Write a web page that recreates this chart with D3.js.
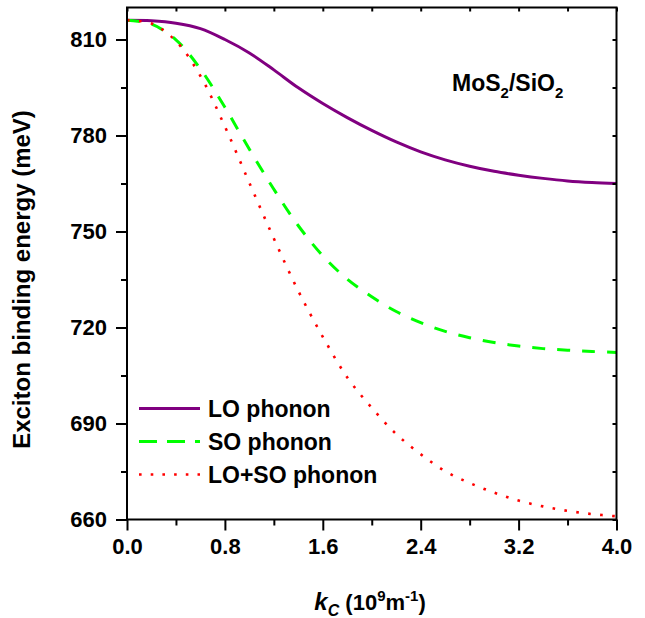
<!DOCTYPE html>
<html>
<head>
<meta charset="utf-8">
<script src="https://cdn.jsdelivr.net/npm/d3@7"></script>
<style>
  html, body { margin: 0; padding: 0; background: #fff; }
  svg { display: block; }
  text { font-family: "Liberation Sans", Arial, Helvetica, sans-serif; font-weight: bold; fill: #000; }
</style>
</head>
<body>
<svg id="chart" width="645" height="618"></svg>
<script>
// Cut-off wave vector k_c (10^9 m^-1)
const kValues = [0.0, 0.2, 0.4, 0.6, 0.8, 1.0, 1.2, 1.4, 1.6, 1.8,
                 2.0, 2.2, 2.4, 2.6, 2.8, 3.0, 3.2, 3.4, 3.6, 3.8, 4.0];

// Exciton binding energy (meV) for each phonon coupling
const loPhonon = [816.0, 815.85, 815.1, 813.4, 810.0, 805.8, 800.5, 794.9, 790.0, 785.6,
                  781.6, 778.0, 774.9, 772.4, 770.4, 768.8, 767.6, 766.6, 765.8, 765.3, 765.0];

const soPhonon = [816.0, 814.8, 809.9, 800.8, 788.8, 775.7, 763.2, 751.8, 742.4, 735.1,
                  729.6, 725.0, 721.5, 718.8, 716.8, 715.3, 714.2, 713.4, 712.9, 712.5, 712.2];

const loSoPhonon = [816.0, 815.0, 809.5, 798.6, 782.8, 765.2, 747.8, 731.4, 717.1, 704.4,
                    694.9, 686.7, 680.4, 675.1, 671.4, 668.4, 665.9, 664.1, 662.7, 661.7, 661.0];

// Axis ticks
const xMajorTicks = [0.0, 0.8, 1.6, 2.4, 3.2, 4.0];
const xMinorTicks = [0.4, 1.2, 2.0, 2.8, 3.6];
const yMajorTicks = [660, 690, 720, 750, 780, 810];
const yMinorTicks = [675, 705, 735, 765, 795];

const seriesNames = ["LO phonon", "SO phonon", "LO+SO phonon"];
const seriesColors = ["#800080", "#00ff00", "#ff0000"];

const svg = d3.select("#chart");

const plot = { left: 127, right: 616.5, top: 7.5, bottom: 519.5 };

const x = d3.scaleLinear().domain([0, 4]).range([plot.left, plot.right]);
const y = d3.scaleLinear().domain([660, 820]).range([plot.bottom, plot.top]);

svg.append("defs").append("clipPath").attr("id", "plotClip")
  .append("rect")
  .attr("x", plot.left).attr("y", plot.top)
  .attr("width", plot.right - plot.left).attr("height", plot.bottom - plot.top);

// Curves
const line = d3.line()
  .x(d => x(d[0]))
  .y(d => y(d[1]))
  .curve(d3.curveCatmullRom.alpha(0.5));

const series = [loPhonon, soPhonon, loSoPhonon];
const styles = [
  { width: 3, dash: null },
  { width: 3, dash: "13,12" },
  { width: 2.6, dash: "2.6,9.4" }
];

const curves = svg.append("g").attr("clip-path", "url(#plotClip)");
series.forEach((vals, i) => {
  curves.append("path")
    .datum(kValues.map((k, j) => [k, vals[j]]))
    .attr("fill", "none")
    .attr("stroke", seriesColors[i])
    .attr("stroke-width", styles[i].width)
    .attr("stroke-dasharray", styles[i].dash)
    .attr("d", line);
});

function styleAxis(g) {
  g.select(".domain").remove();
  g.selectAll("line").attr("stroke", "#000").attr("stroke-width", 2);
  g.selectAll("text").attr("font-family", null).style("font-size", "22px");
}

// Bottom axis: major and minor outward ticks
svg.append("g").attr("transform", `translate(0,${plot.bottom})`)
  .call(d3.axisBottom(x).tickValues(xMajorTicks).tickSize(11).tickPadding(8)
    .tickFormat(d3.format(".1f")))
  .call(styleAxis);

svg.append("g").attr("transform", `translate(0,${plot.bottom})`)
  .call(d3.axisBottom(x).tickValues(xMinorTicks).tickSize(6).tickFormat(""))
  .call(styleAxis);

// Left axis: major and minor outward ticks
svg.append("g").attr("transform", `translate(${plot.left},0)`)
  .call(d3.axisLeft(y).tickValues(yMajorTicks).tickSize(11).tickPadding(9))
  .call(styleAxis);

svg.append("g").attr("transform", `translate(${plot.left},0)`)
  .call(d3.axisLeft(y).tickValues(yMinorTicks).tickSize(6).tickFormat(""))
  .call(styleAxis);

// Top and right: short inward ticks
svg.append("g").attr("transform", `translate(0,${plot.top})`)
  .call(d3.axisBottom(x).tickValues(xMajorTicks.concat(xMinorTicks)).tickSize(4).tickFormat(""))
  .call(styleAxis);

svg.append("g").attr("transform", `translate(${plot.right},0)`)
  .call(d3.axisLeft(y).tickValues(yMajorTicks.concat(yMinorTicks)).tickSize(4).tickFormat(""))
  .call(styleAxis);

// Frame
svg.append("rect")
  .attr("x", plot.left).attr("y", plot.top)
  .attr("width", plot.right - plot.left).attr("height", plot.bottom - plot.top)
  .attr("fill", "none").attr("stroke", "#000").attr("stroke-width", 2);

// Axis titles
svg.append("text")
  .attr("transform", `translate(30,${(108 + 451) / 2}) rotate(-90)`)
  .attr("text-anchor", "middle")
  .style("font-size", "24px")
  .text("Exciton binding energy (meV)");

const xt = svg.append("text")
  .attr("x", 370).attr("y", 610)
  .attr("text-anchor", "middle")
  .style("font-size", "22px");
xt.append("tspan").style("font-style", "italic").style("font-size", "24px").text("k");
xt.append("tspan").style("font-style", "italic").style("font-size", "16px").attr("dy", 6).text("C");
xt.append("tspan").attr("dy", -6).text(" (10");
xt.append("tspan").style("font-size", "15px").attr("dy", -9).text("9");
xt.append("tspan").attr("dy", 9).text("m");
xt.append("tspan").style("font-size", "15px").attr("dy", -9).text("-1");
xt.append("tspan").attr("dy", 9).text(")");

// Sample label
const lab = svg.append("text")
  .attr("x", 452).attr("y", 91)
  .style("font-size", "23px");
lab.append("tspan").text("MoS");
lab.append("tspan").style("font-size", "15px").attr("dy", 7).text("2");
lab.append("tspan").attr("dy", -7).text("/SiO");
lab.append("tspan").style("font-size", "15px").attr("dy", 7).text("2");

// Legend
const legendRows = [408.5, 441.5, 474.5];
const legendDash = [null, "18,10", "2.6,9.1"];
const legend = svg.append("g");
seriesNames.forEach((name, i) => {
  legend.append("line")
    .attr("x1", 139).attr("x2", 200)
    .attr("y1", legendRows[i]).attr("y2", legendRows[i])
    .attr("stroke", seriesColors[i])
    .attr("stroke-width", styles[i].width)
    .attr("stroke-dasharray", legendDash[i]);
  legend.append("text")
    .attr("x", 208).attr("y", legendRows[i])
    .attr("dy", "0.36em")
    .style("font-size", "23px")
    .text(name);
});
</script>
</body>
</html>
